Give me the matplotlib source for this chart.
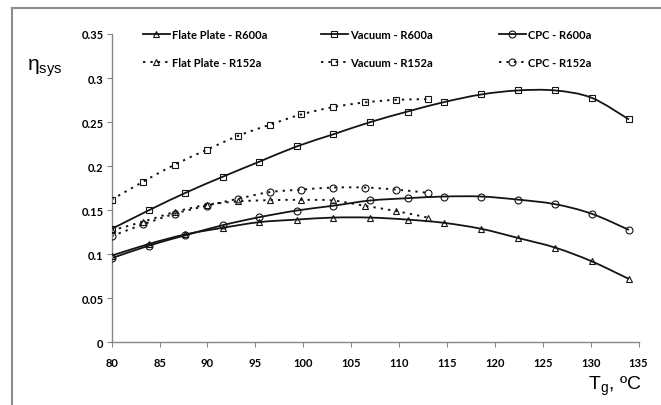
import matplotlib
matplotlib.use('Agg')
import matplotlib.pyplot as plt
from matplotlib.path import Path
from matplotlib.patches import PathPatch
from matplotlib.lines import Line2D

# ---------------------------------------------------------------- data
tg_r600a = [80, 83.9, 87.7, 91.6, 95.4, 99.3, 103.1, 107, 110.9, 114.7,
            118.6, 122.4, 126.3, 130.1, 134]
tg_r152a = [80, 83.3, 86.6, 89.9, 93.2, 96.5, 99.8, 103.1, 106.4, 109.7, 113]

flat_r600a = [0.0984, 0.1117, 0.1225, 0.130, 0.1364, 0.1393, 0.1416, 0.1416,
              0.1393, 0.1356, 0.1288, 0.1185, 0.1075, 0.092, 0.0719]
vacuum_r600a = [0.1287, 0.150, 0.1697, 0.188, 0.205, 0.2223, 0.236, 0.250,
                0.262, 0.2727, 0.2814, 0.2859, 0.2859, 0.2776, 0.253]
cpc_r600a = [0.0955, 0.1098, 0.1215, 0.133, 0.142, 0.1496, 0.155, 0.161,
             0.1636, 0.1655, 0.1655, 0.162, 0.1568, 0.146, 0.1276]

flat_r152a = [0.127, 0.137, 0.148, 0.156, 0.160, 0.1614, 0.1617, 0.161,
              0.155, 0.149, 0.1416]
vacuum_r152a = [0.162, 0.1825, 0.2018, 0.2185, 0.2344, 0.247, 0.2587, 0.267,
                0.2723, 0.2753, 0.276]
cpc_r152a = [0.1205, 0.134, 0.146, 0.155, 0.163, 0.1705, 0.1734, 0.1757,
             0.1757, 0.1734, 0.1697]

x_ticks = [80, 85, 90, 95, 100, 105, 110, 115, 120, 125, 130, 135]
y_ticks = [0, 0.05, 0.1, 0.15, 0.2, 0.25, 0.3, 0.35]

INK = '#141414'
GRID = '#868686'
DOTS = (0, (1.2, 2.6))


# ---------------------------------------------------------------------
def smooth_path(xs, ys):
    """ Excel-like smoothed line: cubic bezier through every point """
    n = len(xs)
    verts = [(xs[0], ys[0])]
    codes = [Path.MOVETO]
    for i in range(n - 1):
        a = max(i - 1, 0)
        d = min(i + 2, n - 1)
        c1 = (xs[i] + (xs[i + 1] - xs[a]) / 6., ys[i] + (ys[i + 1] - ys[a]) / 6.)
        c2 = (xs[i + 1] - (xs[d] - xs[i]) / 6., ys[i + 1] - (ys[d] - ys[i]) / 6.)
        verts += [c1, c2, (xs[i + 1], ys[i + 1])]
        codes += [Path.CURVE4] * 3
    return Path(verts, codes)


def draw_series(ax, xs, ys, marker, ls):
    ax.add_patch(PathPatch(smooth_path(xs, ys), fill=False, edgecolor=INK,
                           lw=1.3 if ls == '-' else 1.4, linestyle=ls,
                           zorder=2))
    ax.plot(xs, ys, ls='none', marker=marker, ms=5, mfc='none', mec=INK,
            mew=0.8, zorder=3)


# ---------------------------------------------------------------------
fig = plt.figure(figsize=(6.61, 4.06), dpi=100)
ax = fig.add_axes([0.169, 0.1544, 0.797, 0.7594])

series = [
    (tg_r600a, flat_r600a, '^', '-'),
    (tg_r600a, vacuum_r600a, 's', '-'),
    (tg_r600a, cpc_r600a, 'o', '-'),
    (tg_r152a, flat_r152a, '^', DOTS),
    (tg_r152a, vacuum_r152a, 's', DOTS),
    (tg_r152a, cpc_r152a, 'o', DOTS),
]
for xs, ys, mk, ls in series:
    draw_series(ax, xs, ys, mk, ls)

ax.set_xlim(80, 135)
ax.set_ylim(0, 0.35)
ax.set_xticks(x_ticks)
ax.set_yticks(y_ticks)
ax.set_xticklabels([str(v) for v in x_ticks])
ax.set_yticklabels(['0', '0.05', '0.1', '0.15', '0.2', '0.25', '0.3', '0.35'])

for side in ['top', 'right']:
    ax.spines[side].set_visible(False)
for side in ['left', 'bottom']:
    ax.spines[side].set_color(GRID)
    ax.spines[side].set_linewidth(1.0)

ax.tick_params(axis='both', direction='out', length=3.5, width=0.8,
               color=GRID, labelcolor='black')
ax.tick_params(axis='x', pad=7)
ax.tick_params(axis='y', pad=2.5)
for lab in ax.get_xticklabels() + ax.get_yticklabels():
    lab.set_fontfamily('Lato')
    lab.set_fontweight('bold')
    lab.set_fontsize(8)

# legend: three columns, each one a small legend of two rows
names = [('Flate Plate - R600a', 'Flat Plate - R152a', '^'),
         ('Vacuum - R600a', 'Vacuum - R152a', 's'),
         ('CPC - R600a', 'CPC - R152a', 'o')]
col_x = [143, 321, 499]
for (n1, n2, mk), cx in zip(names, col_x):
    h1 = Line2D([], [], color=INK, lw=1.3, ls='-', marker=mk, ms=5,
                mfc='none', mec=INK, mew=0.8)
    h2 = Line2D([], [], color=INK, lw=1.4, ls=DOTS, marker=mk, ms=5,
                mfc='none', mec=INK, mew=0.8)
    leg = fig.legend([h1, h2], [n1, n2], loc='upper left',
                     bbox_to_anchor=(cx / 661., 1 - 30 / 406.),
                     frameon=False, handlelength=2.4, handletextpad=0.25,
                     labelspacing=1.55, borderpad=0, borderaxespad=0,
                     prop={'family': 'Lato', 'weight': 'bold', 'size': 8})

plt.rcParams['mathtext.fontset'] = 'custom'
plt.rcParams['mathtext.rm'] = 'Liberation Sans'
fig.text(27 / 661., 1 - 68 / 406., 'η$_{\\rm sys}$', fontsize=15,
         family='Liberation Sans', va='center', ha='left', color='black')
fig.text(641 / 661., 1 - 386 / 406., 'T$_{\\rm g}$, ºC', fontsize=14,
         family='Liberation Sans', va='center', ha='right', color='black')

# chart frame (left and top edges)
fig.add_artist(Line2D([12 / 661., 12 / 661.], [0, 1 - 9 / 406.],
                      transform=fig.transFigure, color='#8c8c8c', lw=1.5))
fig.add_artist(Line2D([12 / 661., 1], [1 - 9 / 406., 1 - 9 / 406.],
                      transform=fig.transFigure, color='#8c8c8c', lw=1.5))

fig.savefig('out.png', dpi=100)
